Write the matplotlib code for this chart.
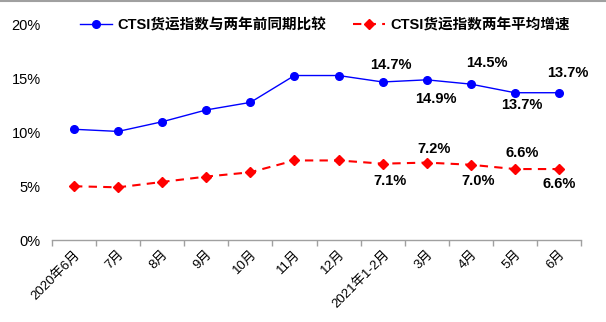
import numpy as np
import matplotlib.pyplot as plt
from matplotlib.lines import Line2D

plt.rcParams['font.family'] = ['Liberation Sans', 'Noto Sans CJK SC', 'DejaVu Sans']

# months along the x axis
months = ['2020年6月', '7月', '8月', '9月', '10月', '11月', '12月',
          '2021年1-2月', '3月', '4月', '5月', '6月']
# CTSI compared with the same period two years earlier (%)
vs_two_years = [10.3, 10.1, 11.0, 12.1, 12.8, 15.3, 15.3, 14.7, 14.9, 14.5, 13.7, 13.7]
# two-year average growth (%)
avg_growth = [5.0, 4.9, 5.4, 5.9, 6.3, 7.4, 7.4, 7.1, 7.2, 7.0, 6.6, 6.6]

# labelled points (last five of each series) and where their text goes
label_idx = [7, 8, 9, 10, 11]
blue_offsets = [(6, 12), (6.5, -14), (11.5, 15), (5, -8.5), (6.5, 14)]
red_offsets = [(5, -12.5), (5, 10), (5.5, -11.5), (5.5, 11.5), (0, -10.5)]

fig = plt.figure(figsize=(6.06, 3.22), dpi=100)
ax = fig.add_axes([52 / 606, 1 - 240 / 322, 529 / 606, 215 / 322])

x = np.arange(len(months))
ax.plot(x, vs_two_years, color='#0000FF', lw=1.0, marker='o', ms=5.5,
        label='CTSI货运指数与两年前同期比较')
ax.plot(x, avg_growth, color='#FF0000', lw=1.5, ls=(0, (4, 3)), marker='D', ms=5,
        label='CTSI货运指数两年平均增速')

for i, off in zip(label_idx, blue_offsets):
    ax.annotate(f'{vs_two_years[i]:.1f}%', (x[i], vs_two_years[i]), xytext=off,
                textcoords='offset points', ha='center', va='center',
                fontsize=10.5, fontweight='bold', color='black')
for i, off in zip(label_idx, red_offsets):
    ax.annotate(f'{avg_growth[i]:.1f}%', (x[i], avg_growth[i]), xytext=off,
                textcoords='offset points', ha='center', va='center',
                fontsize=10.5, fontweight='bold', color='black')

ax.set_xlim(-0.5, len(months) - 0.5)
ax.set_ylim(0, 20)
ax.set_yticks([0, 5, 10, 15, 20])
ax.set_yticklabels([f'{v}%' for v in [0, 5, 10, 15, 20]], fontsize=10.5)
ax.tick_params(axis='y', length=0, pad=8)

ax.set_xticks(x)
ax.set_xticklabels(months, rotation=45, ha='right', va='top',
                   rotation_mode='anchor', fontsize=9.5)
ax.tick_params(axis='x', which='major', length=0, pad=6)
ax.set_xticks(np.arange(-0.5, len(months)), minor=True)
ax.tick_params(axis='x', which='minor', length=4, color='#a0a0a0', width=1)

for s in ['left', 'right', 'top']:
    ax.spines[s].set_visible(False)
ax.spines['bottom'].set_color('#a0a0a0')
ax.spines['bottom'].set_linewidth(1)

fig.legend(loc='center', bbox_to_anchor=(0.536, 1 - 25 / 322), ncol=2,
           frameon=False, handlelength=2.2, columnspacing=1.8, handletextpad=0.4,
           prop={'weight': 'bold', 'size': 10.5})

fig.add_artist(Line2D([0, 1], [0.998, 0.998], color='#a0a0a0', lw=1.5,
                      transform=fig.transFigure))

fig.savefig('out.png', dpi=100)
